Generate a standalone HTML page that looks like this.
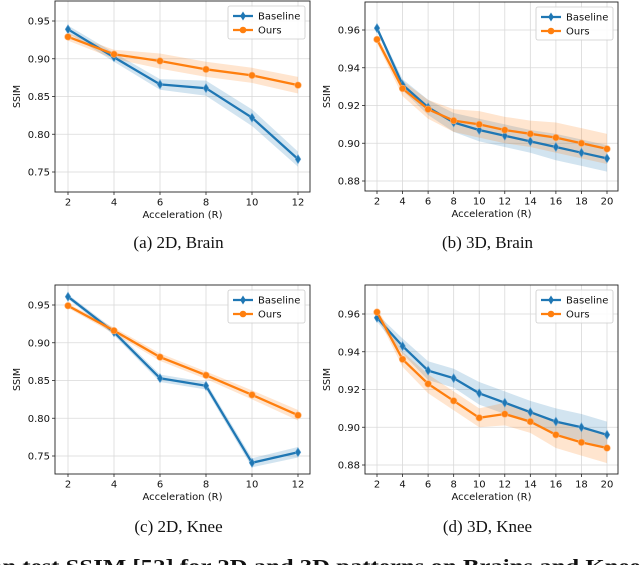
<!DOCTYPE html>
<html><head><meta charset="utf-8">
<style>
html,body{margin:0;padding:0;background:#fff;}
body{width:640px;height:565px;overflow:hidden;position:relative;}
svg{position:absolute;left:0;top:0;}
</style></head>
<body>
<svg id="fig" width="640" height="565" xmlns="http://www.w3.org/2000/svg"></svg>
<script>
// ---- data ----
const xA = [2,4,6,8,10,12];
const xB = [2,4,6,8,10,12,14,16,18,20];
const aBase = [0.939,0.902,0.866,0.861,0.822,0.767];
const aOurs = [0.929,0.906,0.897,0.886,0.878,0.865];
const aBaseSd = [0.005,0.006,0.007,0.010,0.011,0.010];
const aOursSd = [0.005,0.006,0.010,0.010,0.010,0.011];
const bBase = [0.961,0.931,0.919,0.911,0.907,0.904,0.901,0.898,0.895,0.892];
const bOurs = [0.955,0.929,0.918,0.912,0.910,0.907,0.905,0.903,0.900,0.897];
const bBaseSd = [0.001,0.003,0.004,0.005,0.006,0.006,0.006,0.007,0.007,0.007];
const bOursSd = [0.002,0.004,0.005,0.006,0.007,0.007,0.007,0.008,0.008,0.008];
const cBase = [0.961,0.914,0.853,0.843,0.741,0.755];
const cOurs = [0.949,0.916,0.881,0.857,0.831,0.804];
const cBaseSd = [0.003,0.004,0.005,0.005,0.006,0.007];
const cOursSd = [0.003,0.004,0.005,0.005,0.006,0.007];
const dBase = [0.958,0.943,0.930,0.926,0.918,0.913,0.908,0.903,0.900,0.896];
const dOurs = [0.961,0.936,0.923,0.914,0.905,0.907,0.903,0.896,0.892,0.889];
const dBaseSd = [0.002,0.004,0.005,0.005,0.006,0.006,0.006,0.007,0.007,0.007];
const dOursSd = [0.002,0.004,0.005,0.005,0.005,0.006,0.006,0.007,0.007,0.008];
const ticksA = [0.75,0.80,0.85,0.90,0.95];
const ticksB = [0.88,0.90,0.92,0.94,0.96];
const tickLabelsA = ["0.75","0.80","0.85","0.90","0.95"];
const tickLabelsB = ["0.88","0.90","0.92","0.94","0.96"];

const NS="http://www.w3.org/2000/svg";
const svg=document.getElementById('fig');
function mk(tag,attrs,parent){const e=document.createElementNS(NS,tag);for(const k in attrs)e.setAttribute(k,attrs[k]);(parent||svg).appendChild(e);return e;}
const BLUE="#1f77b4", ORANGE="#ff7f0e";
const FS=10;

function panel(cfg){
  const g=mk('g',{});
  
  
  const sx=v=>cfg.x0+(v-cfg.xs[0])/(cfg.xs[cfg.xs.length-1]-cfg.xs[0])*(cfg.x1-cfg.x0);
  const sy=v=>cfg.y0+(v-cfg.t0)/(cfg.t1-cfg.t0)*(cfg.y1-cfg.y0);
  cfg.xs.forEach(v=>{const l=mk('line',{x1:sx(v),x2:sx(v),y1:cfg.top,y2:cfg.bot,stroke:'#d9d9d9','stroke-width':0.8},g);});
  cfg.ticks.forEach(v=>{const l=mk('line',{x1:cfg.left,x2:cfg.right,y1:sy(v),y2:sy(v),stroke:'#d9d9d9','stroke-width':0.8},g);});
  const series=[[cfg.base,cfg.baseSd,BLUE,'baseline'],[cfg.ours,cfg.oursSd,ORANGE,'ours']];
  series.forEach(([vals,sd,col,nm])=>{
    let up=cfg.xs.map((x,i)=>sx(x)+','+sy(vals[i]+sd[i]));
    let dn=cfg.xs.map((x,i)=>sx(x)+','+sy(vals[i]-sd[i])).reverse();
    const p=mk('polygon',{points:up.concat(dn).join(' '),fill:col,'fill-opacity':0.2},g);
    
  });
  series.forEach(([vals,sd,col,nm])=>{
    const pl=mk('polyline',{points:cfg.xs.map((x,i)=>sx(x)+','+sy(vals[i])).join(' '),fill:'none',stroke:col,'stroke-width':2.3},g);
    
    cfg.xs.forEach((x,i)=>{
      let m;
      if(nm==='baseline'){const cx=sx(x),cy=sy(vals[i]);m=mk('polygon',{points:`${cx},${cy-4.5} ${cx+2.8},${cy} ${cx},${cy+4.5} ${cx-2.8},${cy}`,fill:col,stroke:'#5fa0d0','stroke-width':0.6},g);}
      else m=mk('circle',{cx:sx(x),cy:sy(vals[i]),r:3.3,fill:col,stroke:'#ffb070','stroke-width':0.6},g);
      
    });
  });
  const fr=mk('rect',{x:cfg.left,y:cfg.top,width:cfg.right-cfg.left,height:cfg.bot-cfg.top,fill:'none',stroke:'#222','stroke-width':0.9},g);
  
  cfg.xs.forEach(v=>{
    mk('line',{x1:sx(v),x2:sx(v),y1:cfg.bot,y2:cfg.bot+3,stroke:'#222','stroke-width':0.8},g);
    const t=mk('text',{x:sx(v),y:cfg.bot+13.5,'text-anchor':'middle','font-size':FS,'font-family':'DejaVu Sans, sans-serif',fill:'#111'},g);
    t.textContent=v;
  });
  cfg.ticks.forEach((v,i)=>{
    mk('line',{x1:cfg.left-3,x2:cfg.left,y1:sy(v),y2:sy(v),stroke:'#222','stroke-width':0.8},g);
    const t=mk('text',{x:cfg.left-5,y:sy(v)+3.6,'text-anchor':'end','font-size':FS,'font-family':'DejaVu Sans, sans-serif',fill:'#111'},g);
    t.textContent=cfg.labels[i];
  });
  const xt=mk('text',{x:(cfg.left+cfg.right)/2,y:cfg.bot+26,'text-anchor':'middle','font-size':FS,'font-family':'DejaVu Sans, sans-serif',fill:'#111'},g);
  xt.textContent='Acceleration (R)';
  const ymid=(cfg.top+cfg.bot)/2, yx=cfg.left-35;
  const yt=mk('text',{x:yx,y:ymid,'text-anchor':'middle','font-size':9.5,'font-family':'DejaVu Sans, sans-serif',fill:'#111',transform:`rotate(-90 ${yx} ${ymid})`},g);
  yt.textContent='SSIM';
  const lx=cfg.right-82, ly=cfg.top+5;
  const lb=mk('rect',{x:lx,y:ly,width:77,height:33,rx:2,fill:'#fff','fill-opacity':0.85,stroke:'#ccc','stroke-width':0.8},g);
  
  [['Baseline',BLUE,'d'],['Ours',ORANGE,'c']].forEach(([lab,col,mkr],k)=>{
    const yy=ly+10+k*14;
    mk('line',{x1:lx+5,x2:lx+25,y1:yy,y2:yy,stroke:col,'stroke-width':2.3},g);
    if(mkr==='d')mk('polygon',{points:`${lx+15},${yy-4.5} ${lx+17.8},${yy} ${lx+15},${yy+4.5} ${lx+12.2},${yy}`,fill:col},g);
    else mk('circle',{cx:lx+15,cy:yy,r:3.3,fill:col},g);
    const t=mk('text',{x:lx+30,y:yy+3.6,'font-size':FS,'font-family':'DejaVu Sans, sans-serif',fill:'#111'},g);
    t.textContent=lab;
  });
  const cap=mk('text',{x:(cfg.left+cfg.right)/2-4,y:cfg.capY,'text-anchor':'middle','font-size':17,'font-family':'Liberation Serif, serif',fill:'#111'},g);
  cap.textContent=cfg.caption;
}

panel({name:'panel-a-2d-brain',xs:xA,base:aBase,ours:aOurs,baseSd:aBaseSd,oursSd:aOursSd,ticks:ticksA,labels:tickLabelsA,
  left:55,right:310,top:1,bot:192,x0:68,x1:298,t0:0.75,t1:0.95,y0:172,y1:21,capY:248,caption:'(a) 2D, Brain'});
panel({name:'panel-b-3d-brain',xs:xB,base:bBase,ours:bOurs,baseSd:bBaseSd,oursSd:bOursSd,ticks:ticksB,labels:tickLabelsB,
  left:365,right:618,top:2,bot:191,x0:377,x1:607,t0:0.88,t1:0.96,y0:181,y1:30,capY:248,caption:'(b) 3D, Brain'});
panel({name:'panel-c-2d-knee',xs:xA,base:cBase,ours:cOurs,baseSd:cBaseSd,oursSd:cOursSd,ticks:ticksA,labels:tickLabelsA,
  left:55,right:310,top:285,bot:474,x0:68,x1:298,t0:0.75,t1:0.95,y0:456,y1:305,capY:532,caption:'(c) 2D, Knee'});
panel({name:'panel-d-3d-knee',xs:xB,base:dBase,ours:dOurs,baseSd:dBaseSd,oursSd:dOursSd,ticks:ticksB,labels:tickLabelsB,
  left:365,right:618,top:285,bot:474,x0:377,x1:607,t0:0.88,t1:0.96,y0:465,y1:314,capY:532,caption:'(d) 3D, Knee'});

const fc=mk('text',{x:320,y:573,'text-anchor':'middle','font-size':20,'font-weight':'bold','font-family':'Liberation Serif, serif',fill:'#111',textLength:660,lengthAdjust:'spacingAndGlyphs'});
fc.textContent='on test SSIM [52] for 2D and 3D patterns on Brains and Knees';


</script>
</body></html>
